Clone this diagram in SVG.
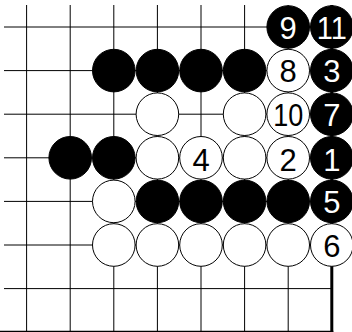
<svg xmlns="http://www.w3.org/2000/svg" width="352" height="332" viewBox="0 0 352 332">
<style>
.g{stroke:#000;stroke-width:1;fill:none}
.e{stroke:#000;stroke-width:3;fill:none}
.b{fill:#000;stroke:#000;stroke-width:1}
.w{fill:#fff;stroke:#000;stroke-width:1}
text{font-family:"Liberation Sans",Arial,sans-serif;font-size:31px;text-anchor:middle}
.tb{fill:#fff}
.tw{fill:#000}
</style>
<rect width="352" height="332" fill="#fff"/>
<g id="grid">
<line class="g" x1="4" y1="27" x2="331.8" y2="27"/>
<line class="g" x1="4" y1="70.6" x2="331.8" y2="70.6"/>
<line class="g" x1="4" y1="114.2" x2="331.8" y2="114.2"/>
<line class="g" x1="4" y1="157.8" x2="331.8" y2="157.8"/>
<line class="g" x1="4" y1="201.4" x2="331.8" y2="201.4"/>
<line class="g" x1="4" y1="245" x2="331.8" y2="245"/>
<line class="g" x1="4" y1="288.6" x2="331.8" y2="288.6"/>
<line class="g" x1="26.6" y1="5" x2="26.6" y2="332"/>
<line class="g" x1="70.2" y1="5" x2="70.2" y2="332"/>
<line class="g" x1="113.8" y1="5" x2="113.8" y2="332"/>
<line class="g" x1="157.4" y1="5" x2="157.4" y2="332"/>
<line class="g" x1="201" y1="5" x2="201" y2="332"/>
<line class="g" x1="244.6" y1="5" x2="244.6" y2="332"/>
<line class="g" x1="288.2" y1="5" x2="288.2" y2="332"/>
<line class="e" x1="331.8" y1="5" x2="331.8" y2="334"/>
<line class="e" x1="0" y1="332.2" x2="333.3" y2="332.2"/>
</g>
<g id="s9"><circle class="b" cx="288.2" cy="27" r="21.3"/><text class="tb" x="288.2" y="38.5">9</text></g>
<g id="s11"><circle class="b" cx="331.8" cy="27" r="21.3"/><text class="tb" x="331.8" y="38.5" textLength="30" lengthAdjust="spacingAndGlyphs">11</text></g>
<g id="b-r1c2"><circle class="b" cx="113.8" cy="70.6" r="21.3"/></g>
<g id="b-r1c3"><circle class="b" cx="157.4" cy="70.6" r="21.3"/></g>
<g id="b-r1c4"><circle class="b" cx="201" cy="70.6" r="21.3"/></g>
<g id="b-r1c5"><circle class="b" cx="244.6" cy="70.6" r="21.3"/></g>
<g id="s8"><circle class="w" cx="288.2" cy="70.6" r="21.3"/><text class="tw" x="288.2" y="82">8</text></g>
<g id="s3"><circle class="b" cx="331.8" cy="70.6" r="21.3"/><text class="tb" x="331.8" y="82">3</text></g>
<g id="w-r2c3"><circle class="w" cx="157.4" cy="114.2" r="21.3"/></g>
<g id="w-r2c5"><circle class="w" cx="244.6" cy="114.2" r="21.3"/></g>
<g id="s10"><circle class="w" cx="288.2" cy="114.2" r="21.3"/><text class="tw" x="288.2" y="126" textLength="30" lengthAdjust="spacingAndGlyphs">10</text></g>
<g id="s7"><circle class="b" cx="331.8" cy="114.2" r="21.3"/><text class="tb" x="331.8" y="126">7</text></g>
<g id="b-r3c1"><circle class="b" cx="70.2" cy="157.8" r="21.3"/></g>
<g id="b-r3c2"><circle class="b" cx="113.8" cy="157.8" r="21.3"/></g>
<g id="w-r3c3"><circle class="w" cx="157.4" cy="157.8" r="21.3"/></g>
<g id="s4"><circle class="w" cx="201" cy="157.8" r="21.3"/><text class="tw" x="201" y="170.5">4</text></g>
<g id="w-r3c5"><circle class="w" cx="244.6" cy="157.8" r="21.3"/></g>
<g id="s2"><circle class="w" cx="288.2" cy="157.8" r="21.3"/><text class="tw" x="288.2" y="170.5">2</text></g>
<g id="s1"><circle class="b" cx="331.8" cy="157.8" r="21.3"/><text class="tb" x="331.8" y="170.5">1</text></g>
<g id="w-r4c2"><circle class="w" cx="113.8" cy="201.4" r="21.3"/></g>
<g id="b-r4c3"><circle class="b" cx="157.4" cy="201.4" r="21.3"/></g>
<g id="b-r4c4"><circle class="b" cx="201" cy="201.4" r="21.3"/></g>
<g id="b-r4c5"><circle class="b" cx="244.6" cy="201.4" r="21.3"/></g>
<g id="b-r4c6"><circle class="b" cx="288.2" cy="201.4" r="21.3"/></g>
<g id="s5"><circle class="b" cx="331.8" cy="201.4" r="21.3"/><text class="tb" x="331.8" y="213">5</text></g>
<g id="w-r5c2"><circle class="w" cx="113.8" cy="245" r="21.3"/></g>
<g id="w-r5c3"><circle class="w" cx="157.4" cy="245" r="21.3"/></g>
<g id="w-r5c4"><circle class="w" cx="201" cy="245" r="21.3"/></g>
<g id="w-r5c5"><circle class="w" cx="244.6" cy="245" r="21.3"/></g>
<g id="w-r5c6"><circle class="w" cx="288.2" cy="245" r="21.3"/></g>
<g id="s6"><circle class="w" cx="331.8" cy="245" r="21.3"/><text class="tw" x="331.8" y="256.5">6</text></g>
</svg>
